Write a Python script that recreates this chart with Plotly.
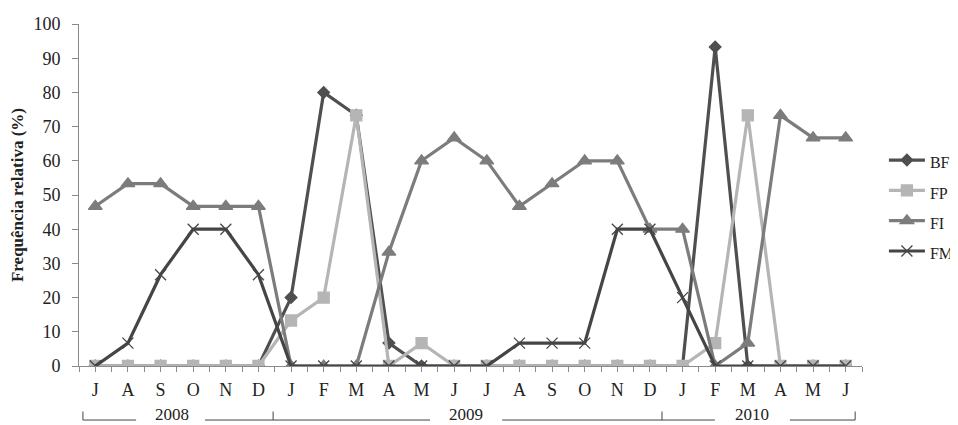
import plotly.graph_objects as go

months = ["J", "A", "S", "O", "N", "D",
          "J", "F", "M", "A", "M", "J", "J", "A", "S", "O", "N", "D",
          "J", "F", "M", "A", "M", "J"]

BF = [0, 0, 0, 0, 0, 0, 20, 80, 73.3, 6.7, 0, 0, 0, 0, 0, 0, 0, 0, 0, 93.3, 0, 0, 0, 0]
FP = [0, 0, 0, 0, 0, 0, 13.3, 20, 73.3, 0, 6.7, 0, 0, 0, 0, 0, 0, 0, 0, 6.7, 73.3, 0, 0, 0]
FI = [46.7, 53.3, 53.3, 46.7, 46.7, 46.7, 0, 0, 0, 33.3, 60, 66.7, 60, 46.7, 53.3, 60, 60, 40, 40, 0, 6.7, 73.3, 66.7, 66.7]
FM = [0, 6.7, 26.7, 40, 40, 26.7, 0, 0, 0, 0, 0, 0, 0, 6.7, 6.7, 6.7, 40, 40, 20, 0, 0, 0, 0, 0]

years = ["2008", "2009", "2010"]
# bracket decoration (x in month-index units)
year_text_x = [2.35, 11.36, 20.13]
year_seg = [(-0.38, 1.25), (3.36, 5.45), (5.45, 10.26), (12.47, 17.37), (17.37, 18.99), (21.29, 23.29)]
year_ticks = [-0.38, 5.45, 17.37, 23.29]

x = list(range(len(months)))
serif = "Liberation Serif, Times New Roman, serif"

fig = go.Figure()
series = [
    ("BF", BF, "#4f4f4f", "diamond", 9),
    ("FP", FP, "#b5b5b5", "square", 11),
    ("FI", FI, "#7c7c7c", "triangle-up", 12),
    ("FM", FM, "#454545", "x-thin-open", 11),
]
for name, vals, col, sym, sz in series:
    fig.add_trace(go.Scatter(
        x=x, y=vals, name="<span style='font-size:16px'>%s</span>" % name,
        mode="lines+markers",
        line=dict(color=col, width=3.2),
        marker=dict(symbol=sym, size=sz, color=col, line=dict(color=col, width=1.3)),
    ))

shapes = []
y_line = -0.158
for a, b in year_seg:
    shapes.append(dict(type="line", xref="x", yref="paper", x0=a, x1=b, y0=y_line, y1=y_line,
                       line=dict(color="#444", width=1)))
for t in year_ticks:
    shapes.append(dict(type="line", xref="x", yref="paper", x0=t, x1=t, y0=y_line, y1=-0.133,
                       line=dict(color="#444", width=1)))
annotations = [dict(x=xx, y=-0.143, xref="x", yref="paper", text=yr, showarrow=False,
                    font=dict(family=serif, size=17, color="#222"), yanchor="middle")
               for xx, yr in zip(year_text_x, years)]

fig.update_layout(
    width=950, height=417,
    margin=dict(l=71, r=96, t=16, b=59, autoexpand=False),
    paper_bgcolor="white", plot_bgcolor="white",
    showlegend=True,
    legend=dict(x=1.028, y=0.468, xanchor="left", yanchor="middle",
                font=dict(family=serif, size=21, color="#222"),
                itemwidth=36,
                bgcolor="rgba(0,0,0,0)", tracegroupgap=0),
    shapes=shapes, annotations=annotations,
    font=dict(family=serif, color="#222"),
)
fig.update_xaxes(
    automargin=False,
    range=[-0.5, 23.5], tickmode="array", tickvals=x, ticktext=months,
    showgrid=False, zeroline=False, showline=True, linecolor="#8a8a8a", linewidth=1,
    ticks="outside", ticklen=5, tickcolor="#8a8a8a",
    minor=dict(tickmode="array", tickvals=[i - 0.5 for i in range(len(months) + 1)],
               ticks="outside", ticklen=5, tickcolor="#8a8a8a"),
    tickfont=dict(family=serif, size=18, color="#222"),
    ticklabelstandoff=2,
)
fig.update_yaxes(
    automargin=False,
    range=[0, 100], dtick=10, showgrid=False, zeroline=False,
    showline=True, linecolor="#8a8a8a", linewidth=1,
    ticks="outside", ticklen=6, tickcolor="#8a8a8a",
    tickfont=dict(family=serif, size=18, color="#222"),
    ticklabelstandoff=8,
    title=dict(text="<b>Frequência relativa (%)</b>", font=dict(family=serif, size=17, color="#222"),
               standoff=6),
)
fig.write_html("out.html")
